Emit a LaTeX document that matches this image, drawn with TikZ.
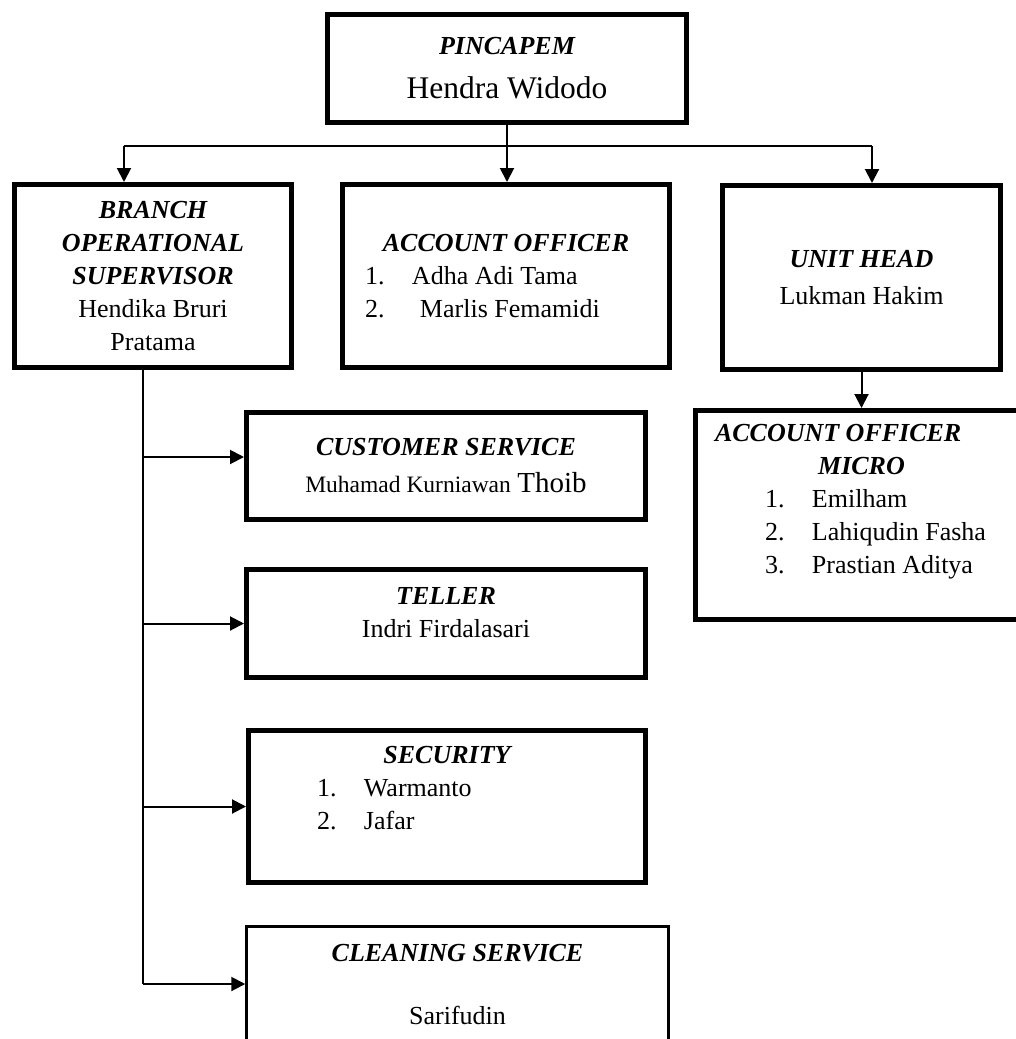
\documentclass[tikz,border=0pt]{standalone}
\usepackage{fontspec}
\setmainfont{Liberation Serif}
\usepackage{tikz}
\usetikzlibrary{arrows.meta, positioning, calc}

\newcommand{\role}[1]{{\bfseries\itshape #1}}
\newcommand{\entry}[4][47pt]{\makebox[#2][l]{\makebox[#1][l]{#3}#4}}

\begin{document}
\begin{tikzpicture}[x=1pt,y=-1pt]
\tikzset{
  bx/.style={rectangle,draw=black,line width=5pt,fill=white,align=center,inner sep=0pt,font=\fontsize{26}{33}\selectfont},
  ln/.style={line width=2pt,draw=black},
  ar/.style={-{Triangle[length=14pt,width=14pt]},line width=2pt,draw=black}
}
\useasboundingbox (0,0) rectangle (1016,1039);
\clip (0,0) rectangle (1016,1039);
% top
\node[bx,minimum width=359pt,minimum height=108pt] (pin) at (507,68.5) {\role{PINCAPEM}\\[11pt] {\fontsize{31.5}{33}\selectfont Hendra Widodo}};
% second row
\node[bx,minimum width=277pt,minimum height=183pt] (bos) at (153,276) {\role{BRANCH}\\ \role{OPERATIONAL}\\ \role{SUPERVISOR}\\ Hendika Bruri\\ Pratama};
\node[bx,minimum width=327pt,minimum height=183pt] (ao) at (506,276) {\role{ACCOUNT OFFICER}\\ \entry{282pt}{1.}{Adha Adi Tama}\\ \entry[55pt]{282pt}{2.}{Marlis Femamidi}};
\node[bx,minimum width=278pt,minimum height=184pt] (uh) at (861.5,277.5) {\role{UNIT HEAD}\\[4pt] Lukman Hakim};
\node[bx,minimum width=332pt,minimum height=209pt,text depth=33pt] (aom) at (861.5,515) {\makebox[293pt][l]{\role{ACCOUNT OFFICER}}\\ \role{MICRO}\\ \entry{193pt}{1.}{Emilham}\\ \entry{193pt}{2.}{Lahiqudin Fasha}\\ \entry{193pt}{3.}{Prastian Aditya}};
% staff under supervisor
\node[bx,minimum width=399pt,minimum height=107pt] (cs) at (446,466) {\role{CUSTOMER SERVICE}\\[4pt] {\fontsize{23.5}{33}\selectfont Muhamad Kurniawan} {\fontsize{29}{33}\selectfont Thoib}};
\node[bx,minimum width=399pt,minimum height=108pt,text depth=23pt] (tel) at (446,623.5) {\role{TELLER}\\ Indri Firdalasari};
\node[bx,minimum width=397pt,minimum height=152pt,text depth=37pt] (sec) at (447,806.5) {\role{SECURITY}\\ \entry{260pt}{1.}{Warmanto}\\ \entry{260pt}{2.}{Jafar}};
\node[bx,line width=2.5pt,minimum width=422pt,minimum height=117pt] (cln) at (457.5,985) {\role{CLEANING SERVICE}\\[30pt] Sarifudin};
% connectors
\coordinate (busL) at (124,146);
\coordinate (busR) at (872,146);
\coordinate (trk) at (143,984);
\draw[ln] (busL) -- (busR);
\draw[ln] (pin.south) -- (pin.south |- busL);
\draw[ar] (busL) -- (busL |- bos.north);
\draw[ar] (pin.south |- busL) -- (pin.south |- ao.north);
\draw[ar] (busR) -- (busR |- uh.north);
\draw[ar] (uh.south) -- (aom.north);
\draw[ln] (trk |- bos.south) -- (trk);
\draw[ar] ($(trk |- cs.west)+(0,-9)$) -- ([yshift=9pt]cs.west);
\draw[ar] (trk |- tel.west) -- (tel.west);
\draw[ar] (trk |- sec.west) -- (sec.west);
\draw[ar] (trk) -- (trk -| cln.west);
\end{tikzpicture}
\end{document}
